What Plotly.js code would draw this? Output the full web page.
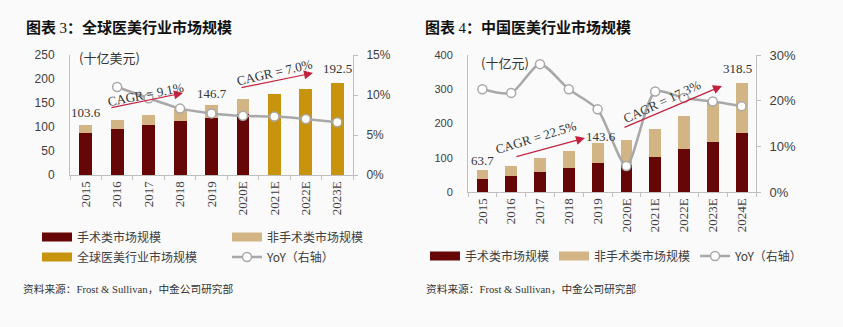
<!DOCTYPE html>
<html><head><meta charset="utf-8">
<script src="https://cdn.plot.ly/plotly-3.0.1.min.js"></script>
<style>html,body{margin:0;padding:0;background:#fafafa}#chart{width:843px;height:327px}</style>
</head><body><div id="chart"></div>
<script>
// ---- Global (left chart) ----
const gYears = ['2015','2016','2017','2018','2019','2020E','2021E','2022E','2023E'];
const gSurgical = [87, 96, 104, 112, 119, 127, null, null, null];
const gNonSurgical = [16.6, 18, 22, 25.5, 27.7, 31, null, null, null];
const gTotalForecast = [null, null, null, null, null, null, 168, 180, 192.5];
const gYoY = [null, 11.0, 9.6, 8.3, 7.7, 7.4, 7.3, 7.0, 6.6];
const gLabelIdx = [0, 4, 8];
const gCagrText = ['CAGR = 9.1%', 'CAGR = 7.0%'];

// ---- China (right chart) ----
const cYears = ['2015','2016','2017','2018','2019','2020E','2021E','2022E','2023E','2024E'];
const cSurgical = [37, 47, 58, 71, 84, 80, 103, 125, 147, 173];
const cNonSurgical = [26.7, 30, 40, 49, 59.6, 71, 80, 97, 117, 145.5];
const cYoY = [22.5, 21.7, 28.0, 22.5, 18.1, 5.7, 22.0, 20.6, 19.8, 18.8];
const cLabelIdx = [0, 4, 9];
const cCagrText = ['CAGR = 22.5%', 'CAGR = 17.3%'];

const names = {surg:'手术类市场规模', non:'非手术类市场规模', glob:'全球医美行业市场规模', yoy:'YoY（右轴）'};

const W = 843, H = 327;
const px = x => x / W, py = y => 1 - y / H;

const C_SURG = '#660606', C_NON = '#d3b585', C_GOLD = '#c8940e', C_LINE = '#a8a8a8';
const SANS = 'Liberation Sans, Arial, sans-serif';
const SERIF = 'Liberation Serif, Times New Roman, serif';
const CJK = 'Noto Sans CJK SC, sans-serif';

function total(s, n, f, i) {
  if (f && f[i] != null) return f[i];
  return (s[i] || 0) + (n[i] || 0);
}

// legend-only swatch traces live on a hidden helper axis
const swatch = (color, name, legend) => ({type:'scatter', x:[0], y:[null], xaxis:'x3', yaxis:'y5', mode:'lines',
  line:{color:color, width:9}, name:name, legend:legend, hoverinfo:'skip'});

const traces = [
  {type:'bar', x:gYears, y:gSurgical, xaxis:'x', yaxis:'y', marker:{color:C_SURG}, showlegend:false, name:names.surg},
  {type:'bar', x:gYears, y:gNonSurgical, xaxis:'x', yaxis:'y', marker:{color:C_NON}, showlegend:false, name:names.non},
  {type:'bar', x:gYears, y:gTotalForecast, xaxis:'x', yaxis:'y', marker:{color:C_GOLD}, showlegend:false, name:names.glob},
  {type:'bar', x:cYears, y:cSurgical, xaxis:'x2', yaxis:'y3', marker:{color:C_SURG}, showlegend:false, name:names.surg},
  {type:'bar', x:cYears, y:cNonSurgical, xaxis:'x2', yaxis:'y3', marker:{color:C_NON}, showlegend:false, name:names.non},
  swatch(C_SURG, names.surg, 'legend'),
  swatch(C_NON, names.non, 'legend'),
  swatch(C_GOLD, names.glob, 'legend2'),
  {type:'scatter', x:gYears, y:gYoY, xaxis:'x', yaxis:'y2', mode:'lines+markers', line:{color:C_LINE, width:2.5, shape:'spline', smoothing:0.4},
   marker:{color:'#ffffff', size:9, line:{color:C_LINE, width:1.5}}, name:names.yoy, legend:'legend2'},
  swatch(C_SURG, names.surg, 'legend3'),
  swatch(C_NON, names.non, 'legend3'),
  {type:'scatter', x:cYears, y:cYoY, xaxis:'x2', yaxis:'y4', mode:'lines+markers', line:{color:C_LINE, width:2.5, shape:'spline', smoothing:0.7},
   marker:{color:'#ffffff', size:9, line:{color:C_LINE, width:1.5}}, name:names.yoy, legend:'legend3'}
];

const tickFont = {family:SANS, size:12, color:'#404040'};
const xBase = {type:'category', showline:true, linecolor:'#bfbfbf', linewidth:1, ticks:'outside', tickson:'boundaries',
  ticklen:4, tickcolor:'#bfbfbf', tickangle:-90, tickfont:{family:SERIF, size:13, color:'#404040'}, showgrid:false, zeroline:false,
  categoryorder:'array'};
const yLeftBase = {showline:true, linecolor:'#bfbfbf', ticks:'', showgrid:false, zeroline:false, ticklabelstandoff:12, tickfont:tickFont};
const yRightBase = {side:'right', showline:true, linecolor:'#bfbfbf', ticks:'outside', ticklen:4, tickcolor:'#bfbfbf',
  showgrid:false, zeroline:false, ticksuffix:'%', ticklabelstandoff:6, tickfont:tickFont};

const annotations = [];
// titles
annotations.push({xref:'paper', yref:'paper', x:px(24), y:py(27), xanchor:'left', yanchor:'middle', showarrow:false,
  text:'<b>图表 </b><span style="font-family:Liberation Serif;font-weight:normal">3</span><b>：全球医美行业市场规模</b>', font:{family:CJK, size:15, color:'#111'}});
annotations.push({xref:'paper', yref:'paper', x:px(423), y:py(27), xanchor:'left', yanchor:'middle', showarrow:false,
  text:'<b>图表 </b><span style="font-family:Liberation Serif;font-weight:normal">4</span><b>：中国医美行业市场规模</b>', font:{family:CJK, size:15, color:'#111'}});
// units
annotations.push({xref:'paper', yref:'paper', x:px(77), y:py(58), xanchor:'left', yanchor:'middle', showarrow:false,
  text:'(十亿美元)', font:{family:CJK, size:13, color:'#333'}});
annotations.push({xref:'paper', yref:'paper', x:px(479), y:py(62), xanchor:'left', yanchor:'middle', showarrow:false,
  text:'(十亿元)', font:{family:CJK, size:13, color:'#333'}});
// sources
const srcText = '资料来源：<span style="font-family:Liberation Serif">Frost &amp; Sullivan</span>，中金公司研究部';
annotations.push({xref:'paper', yref:'paper', x:px(21), y:py(288), xanchor:'left', yanchor:'middle', showarrow:false,
  text:srcText, font:{family:CJK, size:10.7, color:'#333'}});
annotations.push({xref:'paper', yref:'paper', x:px(424), y:py(288), xanchor:'left', yanchor:'middle', showarrow:false,
  text:srcText, font:{family:CJK, size:10.7, color:'#333'}});
// value labels (positioned by category index on the category axes)
const gShift = [3, 2, 5];
gLabelIdx.forEach((i, k) => annotations.push({xref:'x', yref:'y', x:i, y:total(gSurgical, gNonSurgical, gTotalForecast, i),
  yanchor:'bottom', yshift:gShift[k], showarrow:false, text:total(gSurgical, gNonSurgical, gTotalForecast, i).toFixed(1),
  font:{family:SERIF, size:13, color:'#333'}}));
const cShift = [0, -3, 5];
const cXShift = [0, 3, -4];
cLabelIdx.forEach((i, k) => annotations.push({xref:'x2', yref:'y3', x:i, y:total(cSurgical, cNonSurgical, null, i),
  yanchor:'bottom', yshift:cShift[k], xshift:cXShift[k], showarrow:false, text:total(cSurgical, cNonSurgical, null, i).toFixed(1),
  font:{family:SERIF, size:13, color:'#333'}}));
// CAGR arrows + text
const arrowStyle = {showarrow:true, arrowhead:2, arrowsize:1.5, arrowwidth:1.2, arrowcolor:'#c3223f', text:'', xref:'paper', yref:'paper'};
[[183,93,-73,15],[313,73,-73,15],[585,138,-70,19],[722,86,-99,42]].forEach(a =>
  annotations.push(Object.assign({}, arrowStyle, {x:px(a[0]), y:py(a[1]), ax:a[2], ay:a[3]})));
const cagrPos = [[145,94,-11,gCagrText[0]],[274,72,-13,gCagrText[1]],[536,137,-17,cCagrText[0]],[662,101,-25,cCagrText[1]]];
cagrPos.forEach(c => annotations.push({xref:'paper', yref:'paper', x:px(c[0]), y:py(c[1]), xanchor:'center', yanchor:'middle',
  showarrow:false, textangle:c[2], text:c[3], font:{family:SERIF, size:13, color:'#333'}}));

const legBase = {orientation:'h', font:{family:CJK, size:12, color:'#404040'}, bgcolor:'rgba(0,0,0,0)', xanchor:'left', yanchor:'middle',
  traceorder:'normal', itemwidth:30};

const layout = {
  width:W, height:H, margin:{l:0, r:0, t:0, b:0},
  paper_bgcolor:'#fafafa', plot_bgcolor:'#fafafa',
  barmode:'stack', bargap:0.59,
  xaxis:Object.assign({}, xBase, {domain:[px(70), px(353)], anchor:'y', categoryarray:gYears, range:[-0.5, gYears.length - 0.5]}),
  yaxis:Object.assign({}, yLeftBase, {domain:[py(175), py(55)], anchor:'x', range:[0,250], dtick:50}),
  yaxis2:Object.assign({}, yRightBase, {overlaying:'y', anchor:'x', range:[0,15], dtick:5}),
  xaxis2:Object.assign({}, xBase, {domain:[px(468), px(756)], anchor:'y3', categoryarray:cYears, range:[-0.5, cYears.length - 0.5]}),
  yaxis3:Object.assign({}, yLeftBase, {domain:[py(192), py(55)], anchor:'x2', range:[0,400], dtick:100, tickfont:Object.assign({}, tickFont, {size:11})}),
  yaxis4:Object.assign({}, yRightBase, {overlaying:'y3', anchor:'x2', range:[0,30], dtick:10, tickfont:Object.assign({}, tickFont, {size:13})}),
  xaxis3:{visible:false, domain:[0, 0.01], anchor:'y5', range:[0,1]},
  yaxis5:{visible:false, domain:[0, 0.01], anchor:'x3', range:[0,1]},
  legend:Object.assign({}, legBase, {x:px(37), y:py(237), entrywidth:145}),
  legend2:Object.assign({}, legBase, {x:px(37), y:py(257), entrywidth:145}),
  legend3:Object.assign({}, legBase, {x:px(425), y:py(256)}),
  annotations:annotations,
  showlegend:true
};

Plotly.newPlot('chart', traces, layout, {displayModeBar:false, staticPlot:true});
</script>
</body></html>
